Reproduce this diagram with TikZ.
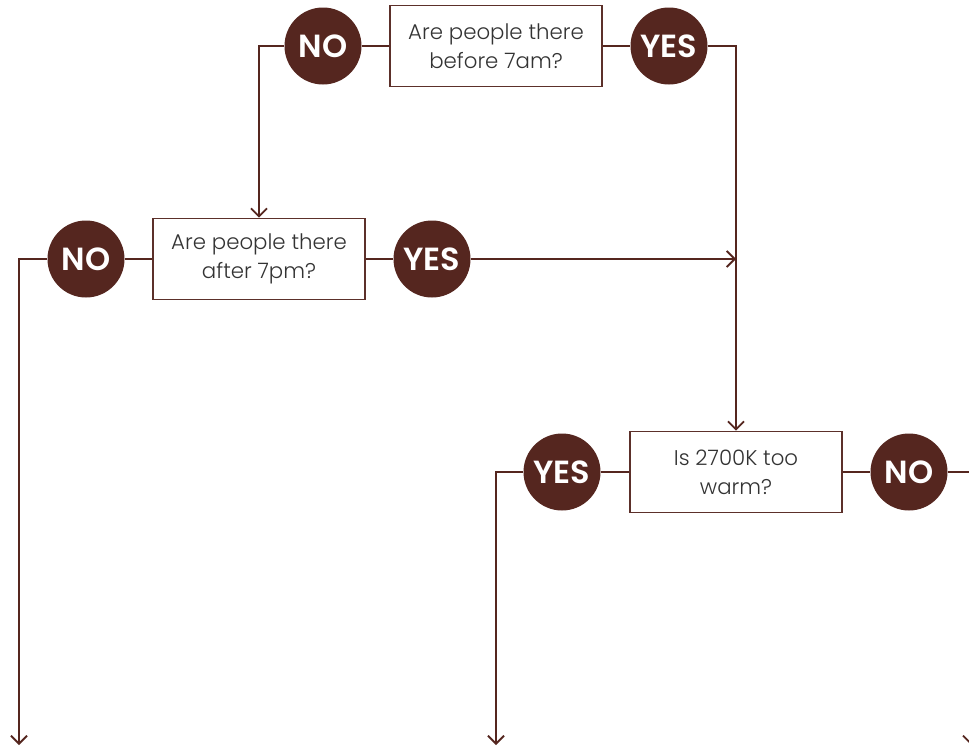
\documentclass[tikz,border=0pt]{standalone}
\usepackage{fontspec}
\setmainfont{Poppins}
\newfontfamily\lightf{Poppins Light}
\newfontfamily\semif{Poppins SemiBold}
\usetikzlibrary{arrows.meta}
\definecolor{brown}{HTML}{55261F}
\definecolor{boxline}{HTML}{5C302A}
\definecolor{txt}{HTML}{333333}
\tikzset{
  qbox/.style={draw=boxline, line width=1.8pt, fill=white, minimum width=212pt, minimum height=81pt,
    align=center, inner sep=0pt, font=\lightf\fontsize{21.3}{29}\selectfont, text=txt},
  ans/.style={circle, fill=brown, minimum size=77pt, inner sep=0pt, text=white,
    font=\semif\fontsize{32}{34}\selectfont},
  conn/.style={draw=brown, line width=1.8pt},
  arr/.style={conn, -{Straight Barb[length=8pt, width=16pt, line width=1.8pt]}}
}
\begin{document}
\begin{tikzpicture}[x=1pt,y=-1pt]
\useasboundingbox (0,0) rectangle (969,747);
% nodes
\node[qbox] (q1) at (496,46) {Are people there\\before 7am?};
\node[ans] (n1) at (323,46) {NO};
\node[ans] (y1) at (669,46) {YES};
\node[qbox] (q2) at (259,259) {Are people there\\after 7pm?};
\node[ans] (n2) at (86,259) {NO};
\node[ans] (y2) at (432,259) {YES};
\node[qbox] (q3) at (736,472) {Is 2700K too\\warm?};
\node[ans] (y3) at (562,472) {YES};
\node[ans] (n3) at (909,472) {NO};
\coordinate (e1) at (19,745);
\coordinate (e2) at (496,745);
\coordinate (e3) at (971,745);
\coordinate (j) at (736,259);
% connectors
\draw[conn] (n1.east) -- (q1.west);
\draw[conn] (q1.east) -- (y1.west);
\draw[arr] (n1.west) -| (q2.north);
\draw[arr] (y1.east) -| (q3.north);
\draw[conn] (n2.east) -- (q2.west);
\draw[conn] (q2.east) -- (y2.west);
\draw[arr] (n2.west) -| (e1);
\draw[arr] (y2.east) -- (j);
\draw[conn] (y3.east) -- (q3.west);
\draw[conn] (q3.east) -- (n3.west);
\draw[arr] (y3.west) -| (e2);
\draw[arr] (n3.east) -| (e3);
\end{tikzpicture}
\end{document}
